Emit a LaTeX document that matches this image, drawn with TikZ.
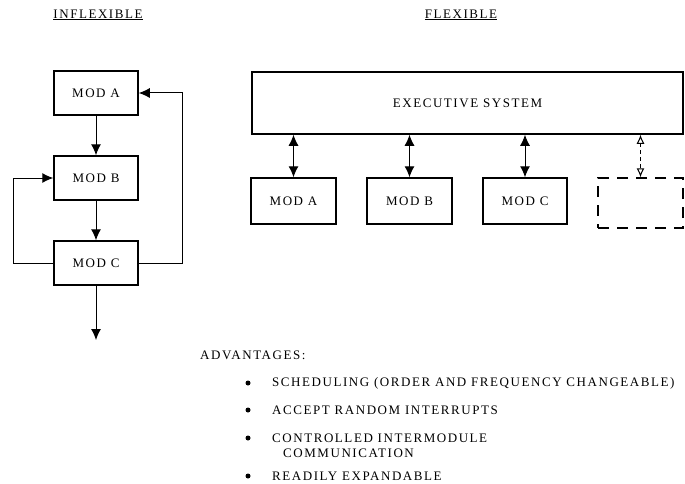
\documentclass[tikz,border=0pt]{standalone}
\usepackage{fontspec}
\setmainfont{Liberation Serif}[LetterSpace=12]
\usetikzlibrary{arrows.meta}
\begin{document}
\begin{tikzpicture}[x=1pt,y=-1pt,
  font=\fontsize{13}{15}\selectfont,
  mod/.style={draw,line width=1.5pt,inner sep=0pt},
  ln/.style={line width=1pt},
  arr/.style={ln,-{Latex[length=11pt,width=10pt]}},
  darr/.style={ln,{Latex[length=11pt,width=10pt]}-{Latex[length=11pt,width=10pt]}},
  oarr/.style={ln,dash pattern=on 4pt off 3pt,{Latex[open,length=9pt,width=8pt]}-{Latex[open,length=9pt,width=8pt]}},
  txt/.style={anchor=west,inner sep=0pt},
  bul/.style={circle,fill,inner sep=0pt,minimum size=5pt}]
\useasboundingbox (0,0) rectangle (685,484);
% titles
\node (t1) at (98,15) {\underline{INFLEXIBLE}};
\node (t2) at (461,15) {\underline{FLEXIBLE}};
% inflexible
\node[mod,minimum width=84pt,minimum height=44pt] (la) at (96,93) {MOD A};
\node[mod,minimum width=84pt,minimum height=44pt] (lb) at (96,178) {MOD B};
\node[mod,minimum width=84pt,minimum height=44pt] (lc) at (96,263) {MOD C};
\coordinate (lout) at (96,340);
\draw[arr] (la) -- (lb);
\draw[arr] (lb) -- (lc);
\draw[arr] (lc) -- (lout);
\draw[arr] (lc.west) -- (13,263) |- (lb.west);
\draw[arr] (lc.east) -- (182,263) |- (la.east);
% flexible
\node[mod,minimum width=431pt,minimum height=62pt] (ex) at (467.5,103) {EXECUTIVE SYSTEM};
\node[mod,minimum width=85pt,minimum height=46pt] (ma) at (293.5,201) {MOD A};
\node[mod,minimum width=85pt,minimum height=46pt] (mb) at (409.5,201) {MOD B};
\node[mod,minimum width=84pt,minimum height=46pt] (mc) at (525,201) {MOD C};
\node[draw,line width=1.5pt,dash pattern=on 11pt off 8pt,inner sep=0pt,minimum width=85pt,minimum height=50pt] (md) at (640.5,203) {};
\draw[darr] (ex.south -| ma) -- (ma.north);
\draw[darr] (ex.south -| mb) -- (mb.north);
\draw[darr] (ex.south -| mc) -- (mc.north);
\draw[oarr] (ex.south -| md) -- (md.north);
% advantages
\node[txt] (adv) at (200,355) {ADVANTAGES:};
\node[bul] (b1) at (248,383) {};
\node[txt] (a1) at (272,383) {SCHEDULING (ORDER AND FREQUENCY CHANGEABLE)};
\node[bul] (b2) at (248,410) {};
\node[txt] (a2) at (272,410) {ACCEPT RANDOM INTERRUPTS};
\node[bul] (b3) at (248,438) {};
\node[txt] (a3) at (272,438) {CONTROLLED INTERMODULE};
\node[txt] (a3b) at (283,453) {COMMUNICATION};
\node[bul] (b4) at (248,476) {};
\node[txt] (a4) at (272,476) {READILY EXPANDABLE};
\end{tikzpicture}
\end{document}
